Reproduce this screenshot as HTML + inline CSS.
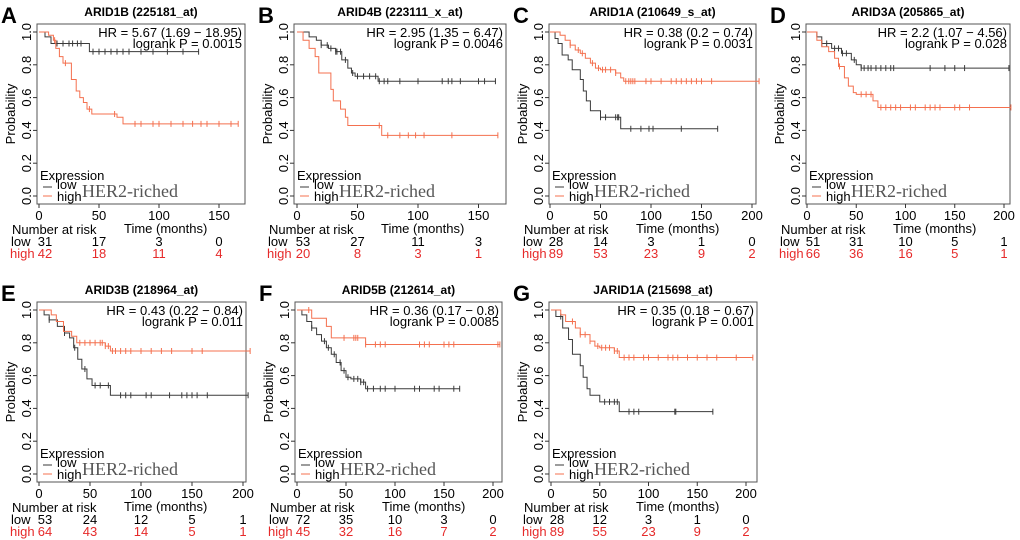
<!DOCTYPE html>
<html><head><meta charset="utf-8">
<style>
html,body{margin:0;padding:0;background:#fff;}
svg{display:block;font-family:"Liberation Sans",Arial,sans-serif;}
</style></head>
<body>
<svg id="fig" width="1020" height="540" viewBox="0 0 1020 540" xmlns="http://www.w3.org/2000/svg"></svg>
<script>
// ---- data ----
const panelIds = ["A","B","C","D","E","F","G"];
const panelTitles = ["ARID1B (225181_at)","ARID4B (223111_x_at)","ARID1A (210649_s_at)","ARID3A (205865_at)","ARID3B (218964_at)","ARID5B (212614_at)","JARID1A (215698_at)"];
const hrTexts = ["HR = 5.67 (1.69 \u2212 18.95)","HR = 2.95 (1.35 \u2212 6.47)","HR = 0.38 (0.2 \u2212 0.74)","HR = 2.2 (1.07 \u2212 4.56)","HR = 0.43 (0.22 \u2212 0.84)","HR = 0.36 (0.17 \u2212 0.8)","HR = 0.35 (0.18 \u2212 0.67)"];
const pTexts = ["logrank P = 0.0015","logrank P = 0.0046","logrank P = 0.0031","logrank P = 0.028","logrank P = 0.011","logrank P = 0.0085","logrank P = 0.001"];
const xTicksA = [0,50,100,150];
const xTicksB = [0,50,100,150,200];
const riskLowA = [31,17,3,0];
const riskHighA = [42,18,11,4];
const riskLowB = [53,27,11,3];
const riskHighB = [20,8,3,1];
const riskLowC = [28,14,3,1,0];
const riskHighC = [89,53,23,9,2];
const riskLowD = [51,31,10,5,1];
const riskHighD = [66,36,16,5,1];
const riskLowE = [53,24,12,5,1];
const riskHighE = [64,43,14,5,1];
const riskLowF = [72,35,10,3,0];
const riskHighF = [45,32,16,7,2];
const riskLowG = [28,12,3,1,0];
const riskHighG = [89,55,23,9,2];
// step curves: times and survival values
const lowTA = [0,5,10,42,133];       const lowSA = [1,0.97,0.93,0.88,0.88];
const highTA = [0,8,12,14,17,20,27,31,34,37,40,44,65,70,166]; const highSA = [1,0.98,0.95,0.9,0.85,0.81,0.71,0.64,0.6,0.57,0.53,0.5,0.48,0.44,0.44];
const lowCA = [15,20,25,28,32,35,45,50,55,60,65,70,75,85,95,107,120,133];
const highCA = [13,22,42,63,80,85,95,100,110,120,128,135,140,150,160,166];
const lowTB = [0,10,16,20,26,32,37,42,45,48,67,164]; const lowSB = [1,0.97,0.95,0.92,0.9,0.88,0.83,0.78,0.75,0.73,0.7,0.7];
const highTB = [0,5,10,15,18,28,30,36,40,42,70,166]; const highSB = [1,0.95,0.9,0.85,0.75,0.65,0.58,0.53,0.48,0.43,0.37,0.37];
const lowCB = [20,25,28,32,33,36,40,46,50,55,60,65,68,72,75,85,100,120,125,128,135,150,155,164];
const highCB = [68,75,85,92,98,105,128,166];
const lowTC = [0,5,8,12,18,22,30,33,36,40,50,70,166]; const lowSC = [1,0.96,0.93,0.86,0.83,0.77,0.71,0.64,0.58,0.52,0.48,0.41,0.41];
const highTC = [0,10,15,20,25,30,35,40,45,50,65,70,73,207]; const highSC = [1,0.98,0.95,0.92,0.89,0.87,0.84,0.81,0.78,0.77,0.75,0.72,0.7,0.7];
const lowCC = [50,55,65,67,68,80,90,98,102,130,166];
const highCC = [20,28,32,42,48,52,55,60,65,75,78,80,82,84,95,100,110,120,125,130,135,140,145,150,160,207];
const lowTD = [0,10,15,25,35,45,50,55,205]; const lowSD = [1,0.97,0.93,0.9,0.87,0.83,0.8,0.78,0.78];
const highTD = [0,10,15,22,28,32,38,42,47,50,67,72,207]; const highSD = [1,0.95,0.91,0.88,0.84,0.79,0.72,0.67,0.63,0.62,0.58,0.54,0.54];
const lowCD = [15,20,28,32,36,40,48,55,58,62,65,70,75,80,85,88,125,140,150,160,205];
const highCD = [33,55,60,65,75,80,85,90,95,105,110,120,125,130,135,150,155,165,207];
const lowTE = [0,5,10,18,25,30,34,38,42,47,52,70,205]; const lowSE = [1,0.97,0.94,0.9,0.86,0.83,0.77,0.7,0.64,0.58,0.54,0.48,0.48];
const highTE = [0,12,17,24,32,37,65,70,207]; const highSE = [1,0.97,0.93,0.87,0.84,0.8,0.78,0.75,0.75];
const lowCE = [10,25,35,45,55,60,68,80,85,90,105,110,128,140,145,150,155,165,205];
const highCE = [40,45,50,55,60,62,65,68,72,75,80,85,90,100,110,120,130,150,160,207];
const lowTF = [0,5,10,15,20,25,30,35,40,45,50,55,65,70,166]; const lowSF = [1,0.97,0.93,0.89,0.85,0.81,0.77,0.73,0.68,0.63,0.59,0.58,0.56,0.52,0.52];
const highTF = [0,15,30,35,70,207]; const highSF = [1,0.95,0.9,0.83,0.79,0.79];
const lowCF = [15,28,32,38,44,48,52,58,62,65,68,72,78,85,90,100,120,125,140,145,160,166];
const highCF = [12,48,58,60,62,70,80,85,90,125,130,135,150,155,160,205,207];
const lowTG = [0,5,12,18,22,30,33,37,40,50,70,166]; const lowSG = [1,0.96,0.89,0.82,0.73,0.66,0.59,0.52,0.48,0.44,0.38,0.38];
const highTG = [0,10,15,25,30,40,45,50,65,70,207]; const highSG = [1,0.97,0.93,0.89,0.85,0.81,0.78,0.77,0.75,0.71,0.71];
const lowCG = [10,55,60,65,68,80,85,90,127,128,166];
const highCG = [22,30,35,40,48,52,56,60,65,68,75,80,85,95,100,110,120,125,130,140,150,160,170,190,207];

const panels = [
 {box:[37,24,208],x0:39,s:1.2,ticks:xTicksA,rl:riskLowA,rh:riskHighA,lt:lowTA,ls:lowSA,ht:highTA,hs:highSA,lc:lowCA,hc:highCA},
 {box:[294,24,212],x0:297,s:1.21,ticks:xTicksA,rl:riskLowB,rh:riskHighB,lt:lowTB,ls:lowSB,ht:highTB,hs:highSB,lc:lowCB,hc:highCB},
 {box:[549,24,207],x0:550,s:1.01,ticks:xTicksB,rl:riskLowC,rh:riskHighC,lt:lowTC,ls:lowSC,ht:highTC,hs:highSC,lc:lowCC,hc:highCC},
 {box:[806,24,204],x0:807,s:0.985,ticks:xTicksB,rl:riskLowD,rh:riskHighD,lt:lowTD,ls:lowSD,ht:highTD,hs:highSD,lc:lowCD,hc:highCD},
 {box:[37,302,209],x0:39,s:1.02,ticks:xTicksB,rl:riskLowE,rh:riskHighE,lt:lowTE,ls:lowSE,ht:highTE,hs:highSE,lc:lowCE,hc:highCE},
 {box:[295,302,207],x0:297,s:0.98,ticks:xTicksB,rl:riskLowF,rh:riskHighF,lt:lowTF,ls:lowSF,ht:highTF,hs:highSF,lc:lowCF,hc:highCF},
 {box:[549,302,208],x0:551,s:0.975,ticks:xTicksB,rl:riskLowG,rh:riskHighG,lt:lowTG,ls:lowSG,ht:highTG,hs:highSG,lc:lowCG,hc:highCG}
];
const LOWC="#3a3a3a", HIGHC="#f4704f", RED="#e62a2a";
const svg=document.getElementById('fig');
const NS="http://www.w3.org/2000/svg";
function mk(tag,attrs,parent,text){const e=document.createElementNS(NS,tag);for(const k in attrs)e.setAttribute(k,attrs[k]);if(text!==undefined)e.textContent=text;(parent||svg).appendChild(e);return e;}

panels.forEach((p,i)=>{
  const [bl,bt,bw]=p.box, bh=180;
  const g=mk('g',{});
  
  
  const X=t=>p.x0+t*p.s;
  const Y=v=>bt+172-v*164;
  const lt=mk('text',{x:bl-36,y:bt-1,'font-size':22,'font-weight':'bold'},g,panelIds[i]);
  
  
  const tt=mk('text',{x:bl+bw/2,y:bt-8,'font-size':12,'font-weight':'bold','text-anchor':'middle'},g,panelTitles[i]);
  
  
  const bx=mk('rect',{x:bl,y:bt,width:bw,height:bh,fill:'none',stroke:'#555','stroke-width':1},g);
  
  
  // y axis
  [0,0.2,0.4,0.6,0.8,1.0].forEach(v=>{
    mk('line',{x1:bl-4,x2:bl,y1:Y(v),y2:Y(v),stroke:'#333'},g);
    const t=mk('text',{x:0,y:0,'font-size':13,'text-anchor':'middle',transform:`translate(${bl-6},${Y(v)}) rotate(-90)`},g,v.toFixed(1));
    
    
  });
  const yt=mk('text',{x:0,y:0,'font-size':13,'text-anchor':'middle',transform:`translate(${bl-22},${bt+90}) rotate(-90)`},g,'Probability');
  
  
  // x axis
  p.ticks.forEach(t=>{
    mk('line',{x1:X(t),x2:X(t),y1:bt+bh,y2:bt+bh+4,stroke:'#333'},g);
    const e=mk('text',{x:X(t),y:bt+bh+16,'font-size':13,'text-anchor':'middle'},g,String(t));
    
    
  });
  const xt=mk('text',{x:bl+87,y:bt+bh+29,'font-size':13},g,'Time (months)');
  
  
  const nr=mk('text',{x:bl-25,y:bt+bh+30,'font-size':13},g,'Number at risk');
  
  
  // risk table
  const lw=mk('text',{x:bl-26,y:bt+bh+42,'font-size':13},g,'low');
  
  
  const hg=mk('text',{x:bl-27,y:bt+bh+54,'font-size':13,fill:RED},g,'high');
  
  
  p.ticks.forEach((t,k)=>{
    const a=mk('text',{x:X(t)+(k==0?6:0),y:bt+bh+42,'font-size':13,'text-anchor':'middle'},g,String(p.rl[k]));
    
    
    const b=mk('text',{x:X(t)+(k==0?6:0),y:bt+bh+54,'font-size':13,'text-anchor':'middle',fill:RED},g,String(p.rh[k]));
    
    
  });
  // HR text
  const hr=mk('text',{x:bl+bw-3,y:bt+13,'font-size':13,'text-anchor':'end'},g,hrTexts[i]);
  
  
  const pv=mk('text',{x:bl+bw-3,y:bt+24,'font-size':13,'text-anchor':'end'},g,pTexts[i]);
  
  
  // curves
  function survAt(T,S,t){let v=S[0];for(let k=0;k<T.length;k++){if(T[k]<=t)v=S[k];}return v;}
  function curve(T,S,C,col,name){
    let d=`M${X(T[0])},${Y(S[0])}`;
    for(let k=1;k<T.length;k++){d+=` H${X(T[k])} V${Y(S[k])}`;}
    const path=mk('path',{d:d,fill:'none',stroke:col,'stroke-width':1},g);
    
    
    C.forEach(c=>{
      const v=survAt(T,S,c);
      const m=mk('line',{x1:X(c),x2:X(c),y1:Y(v)-3,y2:Y(v)+3,stroke:col,'stroke-width':1},g);
      
      
    });
  }
  curve(p.lt,p.ls,p.lc,LOWC,'low-expression');
  curve(p.ht,p.hs,p.hc,HIGHC,'high-expression');
  // legend
  const lg=mk('g',{},g);
  
  
  mk('text',{x:bl+3,y:bt+156,'font-size':13},lg,'Expression');
  mk('line',{x1:bl+6,x2:bl+15,y1:bt+163,y2:bt+163,stroke:LOWC},lg);
  mk('line',{x1:bl+6,x2:bl+15,y1:bt+172,y2:bt+172,stroke:HIGHC},lg);
  mk('text',{x:bl+20,y:bt+165,'font-size':13},lg,'low');
  mk('text',{x:bl+20,y:bt+177,'font-size':13},lg,'high');
  const her=mk('text',{x:bl+45,y:bt+173,'font-size':18,fill:'#555','font-family':'"Liberation Serif",serif'},g,'HER2-riched');
  
  
});
</script>
</body></html>
